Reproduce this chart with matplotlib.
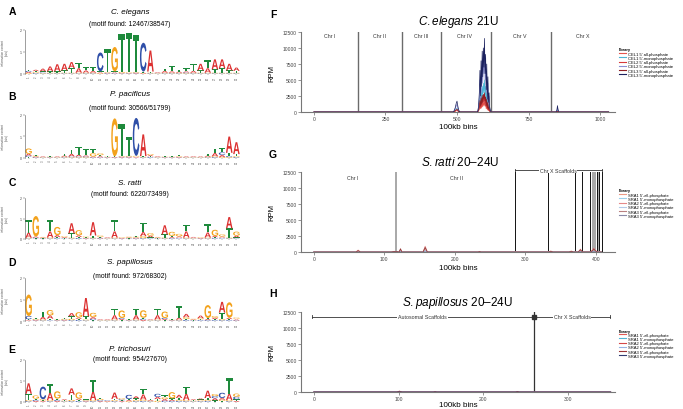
import matplotlib
matplotlib.use('Agg')
import matplotlib.pyplot as plt
from matplotlib.textpath import TextPath
from matplotlib.patches import PathPatch
from matplotlib.font_manager import FontProperties
import matplotlib.transforms as mtransforms

plt.rcParams['font.family'] = ['Liberation Sans', 'DejaVu Sans']
plt.rcParams['mathtext.fontset'] = 'custom'
plt.rcParams['mathtext.rm'] = 'Liberation Sans'
plt.rcParams['mathtext.it'] = 'Liberation Sans:italic'

# ---------------- logo data (bits per position, positions 1..30) ----------------
positions = list(range(1, 31))

cel_A = [.05, .06, .12, .22, .32, .30, .28, .20, .10, .08, .04, .02, .04, .02, .02, .03, .04, .95, .03, .08, .06, .05, .05, .08, .30, .20, .45, .40, .30, .15]
cel_C = [.05, .04, .04, .03, .03, .03, .03, .03, .03, .03, .85, .03, .03, .02, .02, .03, 1.30, .03, .02, .03, .03, .03, .04, .03, .03, .03, .03, .03, .03, .03]
cel_G = [.04, .04, .03, .03, .03, .03, .03, .03, .03, .03, .03, .03, 1.10, .05, .03, .03, .02, .03, .02, .03, .03, .03, .03, .03, .03, .03, .03, .03, .03, .03]
cel_T = [.06, .05, .05, .06, .06, .10, .20, .25, .15, .18, .05, 1.05, .05, 1.72, 1.78, 1.65, .05, .05, .02, .10, .25, .08, .15, .30, .10, .35, .15, .20, .10, .08]

ppa_A = [.08, .04, .03, .02, .03, .05, .12, .08, .05, .04, .05, .02, .03, .03, .03, .03, 1.00, .05, .03, .02, .02, .03, .03, .03, .03, .05, .15, .10, .75, .55]
ppa_C = [.06, .03, .02, .02, .02, .03, .04, .04, .04, .03, .03, .02, .02, .03, .03, 1.75, .03, .04, .02, .02, .02, .02, .02, .02, .02, .03, .04, .12, .05, .04]
ppa_G = [.25, .04, .02, .02, .02, .03, .03, .03, .03, .15, .08, .02, 1.75, .03, .04, .04, .03, .05, .02, .02, .02, .03, .02, .02, .02, .03, .04, .04, .04, .04]
ppa_T = [.05, .04, .03, .02, .03, .08, .20, .35, .30, .20, .05, .04, .03, 1.50, .85, .03, .03, .04, .02, .02, .02, .05, .03, .02, .03, .08, .20, .20, .15, .10]

sra_A = [.25, .05, .03, .30, .10, .04, .50, .08, .03, .65, .04, .03, .30, .03, .03, .04, .20, .08, .03, .45, .05, .06, .30, .04, .03, .25, .06, .05, .55, .08]
sra_C = [.03, .04, .02, .03, .04, .02, .03, .05, .02, .03, .03, .02, .03, .02, .02, .03, .04, .03, .02, .03, .04, .03, .03, .02, .02, .03, .04, .03, .03, .03]
sra_G = [.03, 1.00, .03, .04, .40, .04, .04, .25, .04, .04, .06, .02, .04, .03, .04, .04, .10, .12, .03, .04, .20, .12, .04, .02, .03, .04, .30, .10, .04, .20]
sra_T = [.60, .03, .02, .55, .05, .03, .20, .05, .03, .10, .04, .02, .55, .04, .02, .06, .45, .05, .02, .15, .06, .04, .30, .02, .03, .40, .05, .04, .45, .05]

spa_A = [.03, .03, .12, .15, .02, .03, .15, .06, .85, .08, .03, .03, .20, .05, .02, .20, .05, .03, .20, .05, .02, .10, .15, .03, .12, .05, .06, .50, .06, .04]
spa_C = [.15, .03, .03, .03, .02, .03, .04, .05, .03, .06, .02, .02, .03, .05, .02, .03, .05, .02, .03, .05, .02, .03, .05, .02, .04, .04, .04, .04, .04, .03]
spa_G = [1.00, .04, .04, .25, .02, .04, .06, .25, .04, .20, .02, .02, .04, .35, .02, .04, .35, .02, .04, .30, .02, .03, .08, .03, .05, .60, .08, .05, .72, .05]
spa_T = [.05, .05, .25, .08, .02, .04, .12, .05, .15, .04, .02, .02, .30, .04, .02, .30, .05, .02, .28, .04, .02, .55, .05, .02, .04, .05, .05, .30, .05, .04]

ptr_A = [.50, .05, .04, .35, .05, .04, .30, .06, .03, .40, .04, .03, .30, .04, .05, .10, .25, .04, .10, .08, .06, .15, .30, .04, .05, .35, .10, .08, .30, .05]
ptr_C = [.04, .05, .60, .04, .05, .03, .04, .05, .03, .04, .05, .03, .04, .05, .20, .04, .05, .03, .15, .06, .05, .05, .04, .03, .04, .05, .10, .25, .04, .12]
ptr_G = [.05, .15, .05, .05, .35, .03, .06, .30, .03, .05, .06, .02, .05, .05, .04, .05, .06, .03, .06, .08, .30, .06, .05, .03, .04, .06, .10, .06, .05, .15]
ptr_T = [.30, .06, .04, .40, .06, .03, .25, .05, .03, .55, .06, .03, .06, .04, .05, .08, .25, .04, .08, .10, .06, .08, .32, .03, .04, .08, .08, .05, .75, .08]

# ---------------- RPM track data ----------------
rpm_ticks = [0, 2500, 5000, 7500, 10000, 12500]

cel_bins = [0, 486, 490, 494, 497, 500, 503, 506, 510,
            572, 575, 578, 580, 582, 584, 586, 588, 590, 592, 594, 596, 598, 600, 602, 604, 606, 608, 610, 612, 614, 617, 620,
            846, 849, 851, 853, 856, 1030]
cel1_all = [0, 0, 30, 100, 180, 250, 130, 40, 0,
            0, 150, 400, 900, 500, 1200, 600, 1400, 800, 1500, 1000, 1600, 900, 1300, 500, 1000, 300, 700, 200, 400, 100, 0, 0,
            0, 30, 80, 30, 0, 0]
cel1_mono = [0, 0, 80, 250, 450, 600, 300, 100, 0,
             0, 300, 1000, 2500, 1000, 3500, 1500, 4000, 2500, 4500, 3000, 5000, 2500, 4000, 1500, 3000, 900, 2200, 600, 1200, 300, 100, 0,
             0, 100, 300, 100, 0, 0]
cel2_all = [0, 0, 50, 150, 250, 350, 200, 60, 0,
            0, 200, 600, 1400, 700, 1700, 900, 2000, 1200, 2200, 1500, 2400, 1300, 1900, 800, 1500, 500, 1100, 300, 600, 150, 0, 0,
            0, 40, 100, 40, 0, 0]
cel2_mono = [0, 0, 150, 500, 900, 1200, 600, 200, 0,
             0, 600, 2200, 5000, 2000, 6500, 3000, 8000, 4500, 8500, 6000, 9500, 5000, 7500, 3000, 6000, 1800, 4500, 1200, 2500, 600, 150, 0,
             0, 200, 700, 300, 0, 0]
cel3_all = [0, 0, 60, 200, 350, 450, 250, 80, 0,
            0, 300, 800, 1800, 900, 2200, 1200, 2600, 1500, 2800, 2000, 3000, 1700, 2400, 1000, 2000, 600, 1500, 400, 800, 200, 0, 0,
            0, 50, 150, 50, 0, 0]
cel3_mono = [0, 0, 200, 700, 1300, 1700, 900, 300, 0,
             0, 800, 3000, 6500, 2500, 8000, 4000, 9500, 5500, 10000, 7000, 11500, 6000, 9000, 3500, 7500, 2000, 5500, 1500, 3000, 800, 200, 0,
             0, 300, 1000, 400, 0, 0]
cel_bounds = [154, 307, 443, 618, 828]
cel_chr_names = ['Chr I', 'Chr II', 'Chr III', 'Chr IV', 'Chr V', 'Chr X']
cel_chr_pos = [56, 228, 376, 526, 720, 939]
cel_xticks = [0, 250, 500, 750, 1000]

rat_bins = [0, 60, 63, 66, 110, 114, 118, 121, 123, 125, 155, 158, 161, 233, 235, 237,
            333, 336, 339, 362, 365, 368, 375, 378, 381, 392, 395, 397, 399, 402, 408]
rat1_all = [0, 0, 250, 0, 0, 80, 60, 0, 200, 0, 0, 600, 0, 0, 80, 0, 0, 120, 0, 0, 150, 0, 0, 300, 0, 0, 250, 400, 200, 0, 0]
rat1_mono = [0, 0, 40, 0, 0, 20, 10, 0, 50, 0, 0, 120, 0, 0, 10, 0, 0, 30, 0, 0, 30, 0, 0, 60, 0, 0, 50, 80, 40, 0, 0]
rat2_all = [0, 0, 300, 0, 0, 100, 80, 0, 300, 0, 0, 900, 0, 0, 100, 0, 0, 150, 0, 0, 120, 0, 0, 450, 0, 0, 300, 600, 250, 0, 0]
rat2_mono = [0, 0, 50, 0, 0, 20, 15, 0, 60, 0, 0, 150, 0, 0, 20, 0, 0, 40, 0, 0, 30, 0, 0, 80, 0, 0, 60, 100, 50, 0, 0]
rat3_all = [0, 0, 200, 0, 0, 60, 50, 0, 500, 0, 0, 700, 0, 0, 60, 0, 0, 100, 0, 0, 100, 0, 0, 350, 0, 0, 200, 500, 200, 0, 0]
rat3_mono = [0, 0, 30, 0, 0, 20, 10, 0, 150, 0, 0, 200, 0, 0, 20, 0, 0, 30, 0, 0, 30, 0, 0, 70, 0, 0, 60, 120, 60, 0, 0]
rat_gray_bounds = [117, 396, 398, 403]
rat_black_bounds = [285, 332, 370, 380, 392, 401, 405, 408]
rat_chr_names = ['Chr I', 'Chr II']
rat_chr_pos = [55, 202]
rat_xticks = [0, 100, 200, 300, 400]

pap_bins = [0, 98, 101, 104, 141, 143, 145, 238, 240, 242, 350]
pap1_all = [0, 0, 120, 0, 0, 50, 0, 0, 60, 0, 0]
pap1_mono = [0, 0, 20, 0, 0, 10, 0, 0, 15, 0, 0]
pap2_all = [0, 0, 150, 0, 0, 60, 0, 0, 80, 0, 0]
pap2_mono = [0, 0, 25, 0, 0, 10, 0, 0, 15, 0, 0]
pap3_all = [0, 0, 100, 0, 0, 40, 0, 0, 60, 0, 0]
pap3_mono = [0, 0, 20, 0, 0, 10, 0, 0, 10, 0, 0]
pap_bound = 259
pap_xticks = [0, 100, 200, 300]

W, H = 683, 410
fig = plt.figure(figsize=(W / 100, H / 100), dpi=100)


def add_ax(l, t, r, b):
    return fig.add_axes([l / W, 1 - b / H, (r - l) / W, (b - t) / H])


def ftext(x, y, s, **kw):
    fig.text(x / W, 1 - y / H, s, **kw)


# ---------------- sequence logos ----------------
base_colors = {'A': '#DC3030', 'C': '#2F4FA8', 'G': '#F3A21C', 'T': '#1E8A3C'}
letter_font = FontProperties(family='Liberation Sans', weight='bold')


def draw_letter(ax, ch, x, y, w, h):
    tp = TextPath((0, 0), ch, size=1, prop=letter_font)
    bb = tp.get_extents()
    tr = mtransforms.Affine2D().translate(-bb.x0, -bb.y0).scale(w / bb.width, h / bb.height).translate(x - w / 2, y)
    ax.add_patch(PathPatch(tr.transform_path(tp), fc=base_colors[ch], ec='none', lw=0))


logos = [
    ('A', 'C. elegans', '(motif found: 12467/38547)', [cel_A, cel_C, cel_G, cel_T], (30.7, 75), (12, 12, 24.7)),
    ('B', 'P. pacificus', '(motif found: 30566/51799)', [ppa_A, ppa_C, ppa_G, ppa_T], (115.7, 159), (97, 95, 108.5)),
    ('C', 'S. ratti', '(motif found: 6220/73499)', [sra_A, sra_C, sra_G, sra_T], (199, 240), (183, 184, 194.5)),
    ('D', 'S. papillosus', '(motif found: 972/68302)', [spa_A, spa_C, spa_G, spa_T], (279, 322), (263, 263, 276)),
    ('E', 'P. trichosuri', '(motif found: 954/27670)', [ptr_A, ptr_C, ptr_G, ptr_T], (361, 403), (350, 350, 359.5)),
]

for letter, name, sub, mats, (top, bot), (ly, ty, sy) in logos:
    ax = add_ax(25, top, 240, bot)
    for i, p in enumerate(positions):
        stack = sorted(zip('ACGT', [m[i] for m in mats]), key=lambda t: t[1])
        y0 = 0
        for ch, h in stack:
            if h > 0:
                draw_letter(ax, ch, p, y0, 0.92, h)
                y0 += h
    ax.set_xlim(0.5, 30.5)
    ax.set_ylim(0, 2)
    ax.set_yticks([0, 1, 2])
    ax.set_xticks(positions)
    ax.set_xticklabels([str(p) for p in positions], rotation=90, fontsize=2)
    ax.tick_params(axis='y', labelsize=2.5, length=1.5, width=0.3, pad=0.8, colors='#444')
    ax.tick_params(axis='x', length=0.8, width=0.3, pad=0.5, colors='#555')
    for s in ['top', 'right', 'bottom']:
        ax.spines[s].set_visible(False)
    ax.spines['left'].set_linewidth(0.4)
    ax.spines['left'].set_color('#555')
    ax.set_ylabel('information content\n(bits)', fontsize=2.2, color='#555', linespacing=1.0)
    ax.yaxis.set_label_coords(-0.075, 0.5)
    ftext(12, ly, letter, fontsize=7.5, fontweight='bold', ha='center', va='center')
    ftext(130, ty, name, fontsize=5.8, fontstyle='italic', ha='center', va='center')
    ftext(130, sy, sub, fontsize=4.9, ha='center', va='center')


# ---------------- RPM tracks ----------------
def style_track(ax, xlim, xticks):
    ax.set_xlim(*xlim)
    ax.set_ylim(0, 12500)
    ax.set_yticks(rpm_ticks)
    ax.set_xticks(xticks)
    ax.tick_params(labelsize=3.6, length=2, width=0.4, pad=1, colors='#444')
    for s in ['top', 'right']:
        ax.spines[s].set_visible(False)
    for s in ['left', 'bottom']:
        ax.spines[s].set_color('#777')
        ax.spines[s].set_linewidth(0.8)
    ax.set_ylabel('RPM', fontsize=5.5)
    ax.yaxis.set_label_coords(-0.083, 0.5)
    ax.set_xlabel('100kb bins', fontsize=5.8)


def track_legend(ax, labels, colors, top_px):
    handles = [plt.Line2D([], [], color=c, lw=0.8) for c in colors]
    ax.legend(handles, labels, loc='upper left', bbox_to_anchor=(619 / W, 1 - top_px / H),
              bbox_transform=fig.transFigure, frameon=False, fontsize=3.0, title='library',
              title_fontproperties={'size': 2.9, 'weight': 'bold'}, handlelength=1.6,
              handletextpad=0.6, labelspacing=0.05, borderpad=0, borderaxespad=0, alignment='left')


def bracket(ax, x0, x1, y, label, d=250):
    kw = dict(color='#333', lw=0.6, clip_on=False)
    ax.plot([x0, x1], [y, y], **kw)
    ax.plot([x0, x0], [y - d, y + d], **kw)
    ax.plot([x1, x1], [y - d, y + d], **kw)
    ax.text((x0 + x1) / 2, y, label, fontsize=3.8, ha='center', va='center', color='#333',
            bbox=dict(fc='white', ec='none', pad=0.6), clip_on=False)


# F: C. elegans
cel_labels = ["CEL1 5' all-phosphate", "CEL1 5'-monophosphate", "CEL2 5' all-phosphate",
              "CEL2 5'-monophosphate", "CEL3 5' all-phosphate", "CEL3 5'-monophosphate"]
cel_colors = ['#E5564E', '#4DB6D6', '#D63A3A', '#8C90D4', '#8E1F24', '#1C225E']
cel_series = [cel1_all, cel1_mono, cel2_all, cel2_mono, cel3_all, cel3_mono]

axF = add_ax(301, 33, 615, 113)
for b in cel_bounds:
    axF.axvline(b, color='#6b6b6b', lw=1.0)
for ys, c in zip(cel_series, cel_colors):
    axF.plot(cel_bins, ys, color=c, lw=0.5)
for nm, xp in zip(cel_chr_names, cel_chr_pos):
    axF.text(xp, 11900, nm, fontsize=3.8, ha='center', va='center', color='#333')
style_track(axF, (-45, 1052), cel_xticks)
axF.xaxis.set_label_coords(0.5, -0.14)
track_legend(axF, cel_labels, cel_colors, 48.5)
ftext(273, 15, 'F', fontsize=7.5, fontweight='bold', ha='center', va='center')
ftext(458, 22.5, r'$\mathit{C.elegans}$ 21U', fontsize=8.5, ha='center', va='center')

# G: S. ratti
sra_labels = ["SRA1 5'-all-phosphate", "SRA1 5'-monophosphate", "SRA2 5'-all-phosphate",
              "SRA2 5'-monophosphate", "SRA3 5'-all-phosphate", "SRA3 5'-monophosphate"]
rat_colors = ['#EC9A86', '#9ED0EC', '#E58A8A', '#B4CBEA', '#B98080', '#8A8AA8']
rat_series = [rat1_all, rat1_mono, rat2_all, rat2_mono, rat3_all, rat3_mono]

axG = add_ax(301, 173, 615, 253)
for b in rat_gray_bounds:
    axG.axvline(b, color='#9a9a9a', lw=1.2)
for b in rat_black_bounds:
    axG.axvline(b, color='#111', lw=0.7)
for ys, c in zip(rat_series, rat_colors):
    axG.plot(rat_bins, ys, color=c, lw=0.6)
axG.plot(rat_bins, rat3_all, color='#8E2A2A', lw=0.4)
for nm, xp in zip(rat_chr_names, rat_chr_pos):
    axG.text(xp, 11700, nm, fontsize=3.8, ha='center', va='center', color='#333')
bracket(axG, 285, 408, 12810, 'Chr X Scaffolds', d=220)
style_track(axG, (-18, 427), rat_xticks)
axG.xaxis.set_label_coords(0.5, -0.15)
track_legend(axG, sra_labels, rat_colors, 189.5)
ftext(273, 155, 'G', fontsize=7.5, fontweight='bold', ha='center', va='center')
ftext(460, 163, r'$\mathit{S.ratti}$ 20–24U', fontsize=8.5, ha='center', va='center')

# H: S. papillosus
pap_colors = ['#E25A55', '#55B6D6', '#D44848', '#97B4E4', '#9C3434', '#323C72']
pap_series = [pap1_all, pap1_mono, pap2_all, pap2_mono, pap3_all, pap3_mono]

axH = add_ax(301, 313, 615, 393)
axH.axvline(pap_bound, color='#333', lw=0.9)
for ys, c in zip(pap_series, pap_colors):
    axH.plot(pap_bins, ys, color=c, lw=0.5)
bracket(axH, -2, pap_bound - 1, 11770, 'Autosomal Scaffolds', d=250)
bracket(axH, pap_bound + 1, 349, 11770, 'Chr X Scaffolds', d=250)
axH.plot([pap_bound], [11770], marker='s', ms=2.2, color='#333', clip_on=False)
style_track(axH, (-15, 355), pap_xticks)
axH.xaxis.set_label_coords(0.5, -0.115)
track_legend(axH, sra_labels, pap_colors, 329.5)
ftext(273, 294, 'H', fontsize=7.5, fontweight='bold', ha='center', va='center')
ftext(457, 303, r'$\mathit{S.papillosus}$ 20–24U', fontsize=8.5, ha='center', va='center')

fig.savefig('out.png', dpi=100)
